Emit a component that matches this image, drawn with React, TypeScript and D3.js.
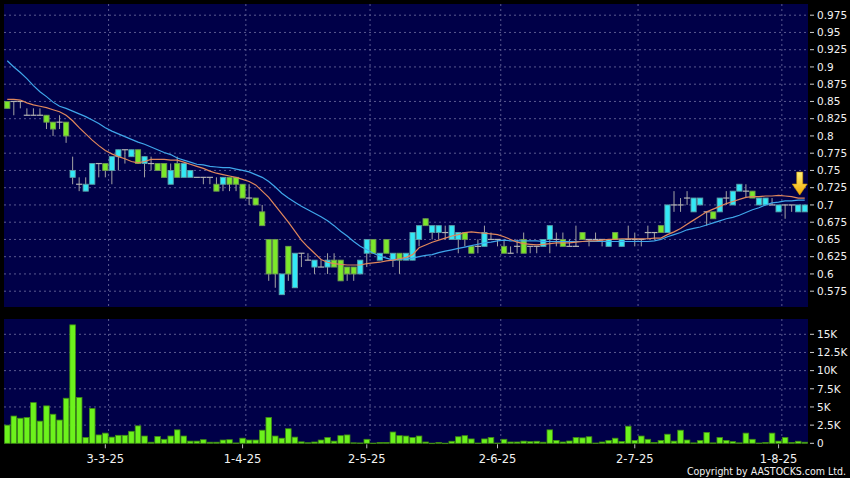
import React from "react";
import * as d3 from "d3";

// ---- data ----
const opens = [
  0.85, 0.85, 0.85, 0.83, 0.83, 0.83, 0.83, 0.82, 0.82, 0.82,
  0.74, 0.73, 0.72, 0.73, 0.76, 0.76, 0.75, 0.77, 0.78, 0.77,
  0.78, 0.76, 0.76, 0.76, 0.76, 0.73, 0.76, 0.74, 0.74, 0.74,
  0.74, 0.74, 0.73, 0.73, 0.74, 0.74, 0.73, 0.71, 0.71, 0.69,
  0.65, 0.65, 0.57, 0.64, 0.58, 0.63, 0.62, 0.61, 0.61, 0.61,
  0.62, 0.62, 0.61, 0.61, 0.60, 0.63, 0.65, 0.62, 0.65, 0.62,
  0.63, 0.62, 0.62, 0.65, 0.68, 0.66, 0.66, 0.66, 0.65, 0.65,
  0.66, 0.64, 0.64, 0.64, 0.65, 0.65, 0.64, 0.63, 0.64, 0.65,
  0.64, 0.64, 0.64, 0.65, 0.65, 0.65, 0.64, 0.64, 0.66, 0.65,
  0.65, 0.65, 0.64, 0.66, 0.64, 0.65, 0.65, 0.65, 0.66, 0.66,
  0.67, 0.66, 0.70, 0.70, 0.71, 0.69, 0.70, 0.69, 0.69, 0.69,
  0.71, 0.70, 0.72, 0.72, 0.72, 0.70, 0.70, 0.70, 0.69, 0.70,
  0.70, 0.69, 0.69,
];
const highs = [
  0.85, 0.85, 0.85, 0.84, 0.84, 0.84, 0.83, 0.82, 0.83, 0.82,
  0.77, 0.74, 0.74, 0.76, 0.76, 0.76, 0.77, 0.78, 0.78, 0.78,
  0.78, 0.77, 0.77, 0.76, 0.76, 0.76, 0.77, 0.76, 0.75, 0.74,
  0.74, 0.74, 0.74, 0.74, 0.74, 0.74, 0.73, 0.73, 0.71, 0.70,
  0.65, 0.65, 0.60, 0.64, 0.63, 0.63, 0.63, 0.62, 0.62, 0.63,
  0.63, 0.62, 0.61, 0.61, 0.62, 0.65, 0.65, 0.63, 0.65, 0.63,
  0.63, 0.63, 0.66, 0.67, 0.68, 0.67, 0.67, 0.67, 0.67, 0.66,
  0.66, 0.64, 0.65, 0.67, 0.66, 0.65, 0.65, 0.64, 0.65, 0.66,
  0.64, 0.64, 0.65, 0.67, 0.66, 0.66, 0.65, 0.67, 0.66, 0.65,
  0.66, 0.65, 0.65, 0.66, 0.65, 0.67, 0.66, 0.65, 0.67, 0.66,
  0.67, 0.70, 0.72, 0.71, 0.72, 0.71, 0.71, 0.69, 0.69, 0.71,
  0.72, 0.72, 0.73, 0.73, 0.72, 0.71, 0.71, 0.71, 0.70, 0.70,
  0.70, 0.70, 0.70,
];
const lows = [
  0.84, 0.83, 0.84, 0.83, 0.83, 0.83, 0.81, 0.80, 0.81, 0.79,
  0.73, 0.72, 0.72, 0.73, 0.74, 0.74, 0.73, 0.75, 0.76, 0.77,
  0.76, 0.74, 0.75, 0.75, 0.74, 0.73, 0.74, 0.74, 0.74, 0.74,
  0.73, 0.73, 0.72, 0.72, 0.72, 0.72, 0.71, 0.70, 0.70, 0.67,
  0.59, 0.58, 0.57, 0.59, 0.58, 0.61, 0.62, 0.60, 0.61, 0.60,
  0.61, 0.59, 0.59, 0.59, 0.60, 0.61, 0.63, 0.62, 0.63, 0.61,
  0.60, 0.62, 0.62, 0.64, 0.67, 0.65, 0.65, 0.65, 0.65, 0.63,
  0.64, 0.63, 0.63, 0.64, 0.65, 0.64, 0.63, 0.63, 0.63, 0.63,
  0.63, 0.63, 0.64, 0.63, 0.64, 0.64, 0.64, 0.64, 0.65, 0.64,
  0.65, 0.64, 0.64, 0.65, 0.64, 0.65, 0.64, 0.64, 0.65, 0.65,
  0.66, 0.66, 0.69, 0.69, 0.70, 0.69, 0.70, 0.67, 0.68, 0.69,
  0.70, 0.70, 0.72, 0.71, 0.71, 0.70, 0.70, 0.70, 0.69, 0.68,
  0.69, 0.69, 0.69,
];
const closes = [
  0.84, 0.85, 0.85, 0.83, 0.83, 0.83, 0.82, 0.81, 0.82, 0.80,
  0.75, 0.73, 0.73, 0.76, 0.76, 0.75, 0.77, 0.78, 0.78, 0.78,
  0.76, 0.77, 0.76, 0.75, 0.74, 0.75, 0.74, 0.76, 0.75, 0.74,
  0.74, 0.74, 0.72, 0.74, 0.73, 0.73, 0.71, 0.71, 0.70, 0.67,
  0.60, 0.60, 0.60, 0.60, 0.63, 0.63, 0.62, 0.62, 0.61, 0.62,
  0.61, 0.59, 0.60, 0.60, 0.62, 0.65, 0.63, 0.63, 0.63, 0.63,
  0.62, 0.63, 0.66, 0.67, 0.67, 0.67, 0.67, 0.66, 0.67, 0.66,
  0.65, 0.63, 0.64, 0.66, 0.65, 0.65, 0.63, 0.63, 0.64, 0.63,
  0.64, 0.64, 0.65, 0.67, 0.65, 0.64, 0.64, 0.64, 0.65, 0.65,
  0.65, 0.65, 0.65, 0.65, 0.65, 0.65, 0.65, 0.65, 0.66, 0.66,
  0.66, 0.70, 0.70, 0.70, 0.71, 0.71, 0.71, 0.69, 0.68, 0.71,
  0.71, 0.72, 0.73, 0.72, 0.71, 0.71, 0.71, 0.70, 0.70, 0.70,
  0.70, 0.70, 0.70,
];
const volumes = [
  2500, 3750, 3450, 3550, 5600, 3050, 5150, 4000, 3200, 6200,
  16300, 6300, 800, 4800, 1150, 1400, 850, 1100, 1100, 1650,
  2400, 1000, 150, 950, 550, 1000, 1850, 1000, 300, 300,
  500, 150, 150, 450, 500, 50, 700, 450, 450, 1800,
  3550, 1000, 700, 2000, 850, 200, 80, 180, 450, 800,
  300, 1050, 1150, 70, 50, 550, 30, 120, 120, 1550,
  1050, 1000, 800, 1000, 180, 20, 120, 20, 280, 900,
  1050, 600, 40, 600, 800, 40, 550, 180, 180, 300,
  230, 280, 150, 1850, 400, 180, 320, 800, 750, 900,
  40, 180, 400, 700, 250, 2350, 400, 1000, 550, 120,
  400, 1250, 300, 1800, 450, 60, 400, 1500, 60, 800,
  400, 230, 60, 1400, 550, 40, 120, 1400, 300, 800,
  120, 280, 150,
];
const ma10 = [
  0.853, 0.853, 0.852, 0.848, 0.845, 0.843, 0.841, 0.838, 0.835, 0.830,
  0.822, 0.812, 0.803, 0.794, 0.786, 0.779, 0.774, 0.770, 0.767, 0.763,
  0.761, 0.763, 0.766, 0.766, 0.766, 0.765, 0.765, 0.762, 0.759, 0.756,
  0.753, 0.749, 0.746, 0.744, 0.742, 0.740, 0.737, 0.734, 0.729, 0.720,
  0.711, 0.699, 0.687, 0.675, 0.662, 0.649, 0.639, 0.630, 0.621, 0.617,
  0.615, 0.614, 0.613, 0.613, 0.613, 0.615, 0.616, 0.617, 0.619, 0.620,
  0.622, 0.624, 0.628, 0.638, 0.642, 0.646, 0.649, 0.652, 0.655, 0.657,
  0.660, 0.661, 0.660, 0.659, 0.658, 0.657, 0.654, 0.650, 0.646, 0.644,
  0.643, 0.642, 0.643, 0.644, 0.645, 0.645, 0.645, 0.646, 0.647, 0.648,
  0.648, 0.649, 0.650, 0.650, 0.651, 0.651, 0.651, 0.651, 0.651, 0.652,
  0.652, 0.657, 0.661, 0.666, 0.672, 0.678, 0.684, 0.690, 0.694, 0.698,
  0.702, 0.705, 0.708, 0.711, 0.712, 0.712, 0.713, 0.713, 0.714, 0.713,
  0.712, 0.710, 0.710,
];
const ma20 = [
  0.909, 0.900, 0.892, 0.883, 0.873, 0.864, 0.857, 0.849, 0.843, 0.840,
  0.836, 0.832, 0.828, 0.823, 0.818, 0.812, 0.807, 0.803, 0.799, 0.795,
  0.791, 0.788, 0.784, 0.780, 0.776, 0.773, 0.768, 0.765, 0.762, 0.759,
  0.758, 0.756, 0.755, 0.754, 0.754, 0.752, 0.750, 0.748, 0.744, 0.740,
  0.734, 0.726, 0.717, 0.710, 0.704, 0.698, 0.693, 0.688, 0.683, 0.677,
  0.670, 0.662, 0.655, 0.647, 0.640, 0.635, 0.630, 0.626, 0.623, 0.620,
  0.621, 0.622, 0.623, 0.625, 0.627, 0.628, 0.631, 0.633, 0.635, 0.637,
  0.639, 0.641, 0.643, 0.645, 0.646, 0.648, 0.649, 0.648, 0.648, 0.648,
  0.648, 0.648, 0.647, 0.647, 0.647, 0.647, 0.647, 0.647, 0.647, 0.647,
  0.647, 0.647, 0.647, 0.647, 0.647, 0.647, 0.647, 0.647, 0.647, 0.648,
  0.650, 0.654, 0.657, 0.660, 0.664, 0.666, 0.668, 0.671, 0.674, 0.677,
  0.680, 0.682, 0.685, 0.689, 0.693, 0.696, 0.700, 0.703, 0.704, 0.706,
  0.706, 0.707, 0.707,
];
const dateTickIndex = [15, 36, 55, 75, 96, 118];
const dateTickLabels = ["3-3-25", "1-4-25", "2-5-25", "2-6-25", "2-7-25", "1-8-25"];
const priceTicks = [0.575, 0.6, 0.625, 0.65, 0.675, 0.7, 0.725, 0.75, 0.775, 0.8, 0.825, 0.85, 0.875, 0.9, 0.925, 0.95, 0.975];
const volumeTicks = [0, 2500, 5000, 7500, 10000, 12500, 15000];
const volumeTickLabels = ["0", "2.5K", "5K", "7.5K", "10K", "12.5K", "15K"];

const FONT = "'DejaVu Sans', Verdana, sans-serif";

export default function App() {
  const W = 850, H = 478;
  const L = 4, R = 808;
  const pTop = 4, pBot = 307;
  const vTop = 319, vBot = 443.3;
  const idx = d3.range(opens.length);
  const x = d3.scalePoint<number>().domain(idx).range([L, R]).padding(0.5);
  const step = x.step();
  const cx = (i: number) => x(i) as number;
  const y = d3.scaleLinear().domain([0.575, 0.975]).range([291.2, 15.2]);
  const yv = d3.scaleLinear().domain([0, 15000]).range([vBot, 334.3]);
  const line = d3.line<number>().x((_, i) => cx(i)).y((v) => y(v));
  const bw = 5.2;
  const gridColor = "#5a5a90";
  const last = opens.length - 1;
  const ax = cx(last) - 5;
  const ty = y(ma10[last]) - 3;

  return (
    <svg width={W} height={H} style={{ position: "absolute", left: 0, top: 0 }} fontFamily={FONT}>
      <defs>
        <linearGradient id="arrowGrad" x1="0" y1="0" x2="0" y2="1">
          <stop offset="0%" stopColor="#fff27a" />
          <stop offset="100%" stopColor="#f2a900" />
        </linearGradient>
        <clipPath id="pclip"><rect x={L} y={pTop} width={R - L} height={pBot - pTop} /></clipPath>
      </defs>
      <rect x={0} y={0} width={W} height={H} fill="#000000" />
      <rect x={L} y={pTop} width={R - L} height={pBot - pTop} fill="#000048" />
      <rect x={L} y={vTop} width={R - L} height={vBot - vTop} fill="#000048" />

      {/* price grid */}
      {priceTicks.map((t) => (
        <line key={"pg" + t} x1={L} x2={R} y1={y(t)} y2={y(t)} stroke={gridColor} strokeWidth={1} strokeDasharray="2,3" />
      ))}
      {volumeTicks.slice(1).map((t) => (
        <line key={"vg" + t} x1={L} x2={R} y1={yv(t)} y2={yv(t)} stroke={gridColor} strokeWidth={1} strokeDasharray="2,3" />
      ))}
      {dateTickIndex.map((j) => (
        <g key={"dg" + j}>
          <line x1={cx(j) + step / 2} x2={cx(j) + step / 2} y1={pTop} y2={pBot} stroke={gridColor} strokeDasharray="2,3" />
          <line x1={cx(j) + step / 2} x2={cx(j) + step / 2} y1={vTop} y2={vBot} stroke={gridColor} strokeDasharray="2,3" />
        </g>
      ))}

      {/* candles */}
      <g clipPath="url(#pclip)">
        {idx.map((i) => {
          const o = opens[i], c = closes[i];
          const xc = cx(i);
          const up = c > o;
          return (
            <g key={"c" + i}>
              <line x1={xc} x2={xc} y1={y(highs[i])} y2={y(lows[i])} stroke="#a3a3a3" strokeWidth={1} />
              {o === c ? (
                <line x1={xc - bw / 2 - 0.5} x2={xc + bw / 2 + 0.5} y1={y(o)} y2={y(o)} stroke="#b4b4b4" strokeWidth={1.2} />
              ) : (
                <rect
                  x={xc - bw / 2}
                  width={bw}
                  y={y(Math.max(o, c))}
                  height={Math.abs(y(o) - y(c))}
                  fill={up ? "#33e8f6" : "#7ce82a"}
                  stroke={up ? "#5aa0a8" : "#6e9a50"}
                  strokeWidth={0.9}
                />
              )}
            </g>
          );
        })}
        <path d={line(ma20) || ""} fill="none" stroke="#3fa6ea" strokeWidth={1.2} />
        <path d={line(ma10) || ""} fill="none" stroke="#e0875c" strokeWidth={1.2} />
      </g>

      {/* arrow */}
      <path
        d={`M${ax - 3},${ty - 23} L${ax + 3},${ty - 23} L${ax + 3},${ty - 11} L${ax + 7.5},${ty - 11} L${ax},${ty} L${ax - 7.5},${ty - 11} L${ax - 3},${ty - 11} Z`}
        fill="url(#arrowGrad)"
        stroke="#d49a00"
        strokeWidth={0.6}
      />

      {/* volume bars */}
      {idx.map((i) => (
        <rect
          key={"v" + i}
          x={cx(i) - 2.8}
          width={5.6}
          y={yv(volumes[i])}
          height={Math.max(0.5, vBot - yv(volumes[i]))}
          fill="#6cf21c"
          stroke="#3f8a14"
          strokeWidth={0.8}
        />
      ))}

      {/* price axis */}
      {priceTicks.map((t) => (
        <g key={"pt" + t}>
          <line x1={810} x2={814} y1={y(t)} y2={y(t)} stroke="#d0d0d0" />
          <text x={817} y={y(t)} dy="0.36em" fontSize={10.5} fill="#f2f2f2">{String(+t.toFixed(3))}</text>
        </g>
      ))}
      {/* volume axis */}
      {volumeTicks.map((t, k) => (
        <g key={"vt" + t}>
          <line x1={810} x2={814} y1={yv(t)} y2={yv(t)} stroke="#d0d0d0" />
          <text x={817} y={yv(t)} dy="0.36em" fontSize={10.5} fill="#f2f2f2">{volumeTickLabels[k]}</text>
        </g>
      ))}
      {/* date axis */}
      {dateTickIndex.map((j, k) => (
        <g key={"dt" + j}>
          <line x1={cx(j)} x2={cx(j)} y1={vBot + 1} y2={vBot + 5} stroke="#c0c0c0" />
          <text x={cx(j)} y={462.5} textAnchor="middle" fontSize={11.5} fill="#f2f2f2">{dateTickLabels[k]}</text>
        </g>
      ))}
      <text x={846} y={475} textAnchor="end" fontSize={10.5} fill="#f2f2f2" fontFamily="'DejaVu Sans Condensed', 'DejaVu Sans', sans-serif">
        Copyright by AASTOCKS.com Ltd.
      </text>
    </svg>
  );
}
